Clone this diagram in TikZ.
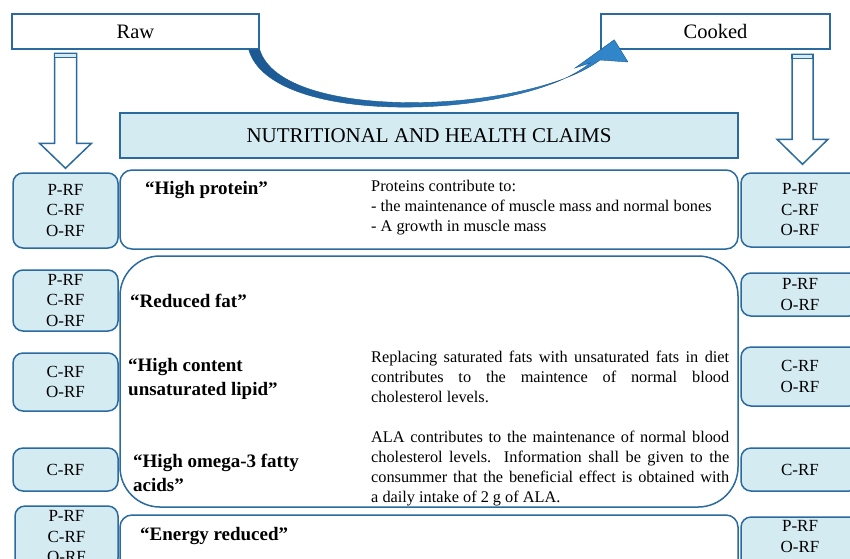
\documentclass[tikz,border=0pt]{standalone}
\usepackage{fontspec}
\setmainfont{Liberation Serif}
\usetikzlibrary{calc}

\definecolor{boxblue}{RGB}{42,106,158}
\definecolor{boxfill}{RGB}{212,235,242}
\definecolor{arrdark}{RGB}{28,88,146}
\definecolor{arrlight}{RGB}{50,136,204}

\begin{document}
\begin{tikzpicture}[x=1pt, y=-1pt,
  headbox/.style={rectangle, draw=boxblue, line width=1.5pt, fill=white, minimum height=35pt, inner sep=0pt, font=\fontsize{20.5}{24}\selectfont},
  titlebox/.style={rectangle, draw=boxblue, line width=1.5pt, fill=boxfill, minimum width=618pt, minimum height=45pt, inner sep=0pt, font=\fontsize{21}{24}\selectfont},
  sidebox/.style={rectangle, rounded corners=10pt, draw=boxblue, line width=1.5pt, fill=boxfill, align=center, inner sep=0pt, font=\fontsize{17}{20.5}\selectfont},
  claimbox/.style={rectangle, rounded corners=12pt, draw=boxblue, line width=1.5pt, fill=white, minimum width=618pt, inner sep=0pt},
  claim/.style={anchor=west, align=left, inner sep=0pt, font=\fontsize{19}{23.5}\selectfont\bfseries},
  effect/.style={anchor=west, inner sep=0pt, text width=358pt, align=justify, font=\fontsize{16.3}{20}\selectfont},
  blockarr/.style={draw=boxblue, line width=1.5pt, fill=white, line join=miter},
  bendarr/.style={draw=arrdark, line width=0.4pt, left color=arrdark, right color=arrlight}
]
\useasboundingbox (0,0) rectangle (850,558);
\clip (0,0) rectangle (850,558);

% raw / cooked
\node[headbox, minimum width=247pt] (raw) at (135.5,31.5) {Raw};
\node[headbox, minimum width=229pt] (cooked) at (715.5,31.5) {Cooked};

\node[titlebox] (title) at (429,135.5) {NUTRITIONAL AND HEALTH CLAIMS};

% left column
\node[sidebox, minimum width=105pt, minimum height=75pt] (l1) at (65.5,210.5) {P-RF\\C-RF\\O-RF};
\node[sidebox, minimum width=105pt, minimum height=61pt] (l2) at (65.5,300.5) {P-RF\\C-RF\\O-RF};
\node[sidebox, minimum width=105pt, minimum height=58pt] (l3) at (65.5,382) {C-RF\\O-RF};
\node[sidebox, minimum width=105pt, minimum height=43pt] (l4) at (65.5,469.5) {C-RF};
\node[sidebox, minimum width=103pt, minimum height=62pt] (l5) at (66.5,537) {P-RF\\C-RF\\O-RF};

% right column
\node[sidebox, minimum width=118pt, minimum height=74pt] (r1) at (800,210) {P-RF\\C-RF\\O-RF};
\node[sidebox, minimum width=118pt, minimum height=43pt] (r2) at (800,294.5) {P-RF\\O-RF};
\node[sidebox, minimum width=118pt, minimum height=59pt] (r3) at (800,376.5) {C-RF\\O-RF};
\node[sidebox, minimum width=118pt, minimum height=43pt] (r4) at (800,469.5) {C-RF};
\node[sidebox, minimum width=118pt, minimum height=62pt] (r5) at (800,548) {};
\node[inner sep=0pt, align=center, font=\fontsize{17}{20.5}\selectfont] (r5t) at (800,536.5) {P-RF\\O-RF};

% claims
\node[claimbox, minimum height=79pt] (m1) at (429,209.5) {};
\node[claimbox, rounded corners=40pt, minimum height=251pt] (m2) at (429,381.5) {};
\node[claimbox, minimum height=64pt] (m3) at (429,547) {};

\node[claim] (c1) at (145,190) {``High protein''};
\node[anchor=west, align=left, inner sep=0pt, font=\fontsize{16.3}{20}\selectfont] (e1) at (371,208)
  {Proteins contribute to:\\- the maintenance of muscle mass and normal bones\\- A growth in muscle mass};
\node[claim] (c2) at (130,301) {``Reduced fat''};
\node[claim] (c3) at (128,379) {``High content\\unsaturated lipid''};
\node[effect] (e3) at (371,377)
  {Replacing saturated fats with unsaturated fats in diet\linebreak contributes to the maintence of normal blood\linebreak cholesterol levels.};
\node[claim] (c4) at (133,473) {``High omega-3 fatty\\acids''};
\node[effect] (e4) at (371,469)
  {ALA contributes to the maintenance of normal blood\linebreak cholesterol levels. Information shall be given to the\linebreak consummer that the beneficial effect is obtained with\linebreak a daily intake of 2 g of ALA.};
\node[claim] (c5) at (140,536) {``Energy reduced''};

% down arrows
\coordinate (ltip) at ($(l1.north)+(0,-4)$);
\draw[blockarr] (ltip) -- ++(-26,-25) -- ++(15,0) -- ++(0,-90) -- ++(22,0) -- ++(0,90) -- ++(15,0) -- cycle;
\draw[boxblue, line width=1.2pt, fill=boxfill] ($(ltip)+(-11,-115)$) rectangle ++(22,4.5);
\coordinate (rtip) at ($(r1.north)+(2.5,-8)$);
\draw[blockarr] (rtip) -- ++(-25.5,-25) -- ++(15,0) -- ++(0,-85) -- ++(21,0) -- ++(0,85) -- ++(15,0) -- cycle;
\draw[boxblue, line width=1.2pt, fill=boxfill] ($(rtip)+(-10.5,-110)$) rectangle ++(21,4.5);

% raw -> cooked
\path[bendarr] ($(raw.south east)+(-11,0)$) .. controls (272,130) and (525,118) .. (590,63)
  -- (575,68) -- ($(cooked.south west)+(14,-10)$) -- (628,62) -- (600,60)
  .. controls (530,113) and (283,124) .. (raw.south east) -- cycle;

\end{tikzpicture}
\end{document}
